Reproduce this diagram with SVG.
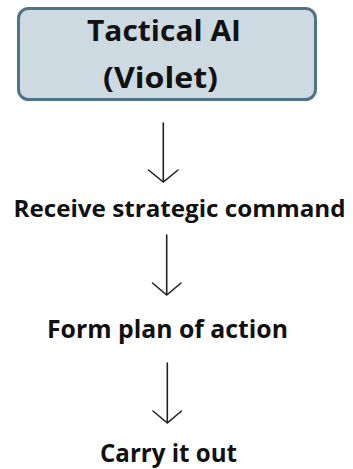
<svg xmlns="http://www.w3.org/2000/svg" width="353" height="469" viewBox="0 0 353 469">
<style>
.t{font-family:"Open Sans","Noto Sans","Liberation Sans",sans-serif;font-weight:bold;fill:#111;text-anchor:middle}
.c{fill:none;stroke:#222;stroke-width:1.6;stroke-linecap:round;stroke-linejoin:miter}
</style>
<rect width="353" height="469" fill="#fff"/>
<g id="tactical-ai">
<rect x="18.5" y="8.5" width="297" height="91" rx="10" ry="10" fill="#cddae1" stroke="#4f7487" stroke-width="3"/>
<text class="t" x="164" y="41" font-size="29" textLength="154" lengthAdjust="spacingAndGlyphs">Tactical AI</text>
<text class="t" x="160.5" y="88" font-size="29" textLength="115" lengthAdjust="spacingAndGlyphs">(Violet)</text>
</g>
<g id="receive">
<text class="t" x="179.5" y="217" font-size="23.5" textLength="332" lengthAdjust="spacingAndGlyphs">Receive strategic command</text>
</g>
<g id="form">
<text class="t" x="167.5" y="338" font-size="25" textLength="241" lengthAdjust="spacingAndGlyphs">Form plan of action</text>
</g>
<g id="carry">
<text class="t" x="168.5" y="462" font-size="25" textLength="137" lengthAdjust="spacingAndGlyphs">Carry it out</text>
</g>
<g id="connectors">
<path class="c" d="M163.3 123 V182 M148.5 170 L163.3 182 L178 170"/>
<path class="c" d="M166.7 235 V295 M152.5 283 L166.7 295 L181 283"/>
<path class="c" d="M167.3 363 V423 M153 411 L167.3 423 L181.5 411"/>
</g>
</svg>
